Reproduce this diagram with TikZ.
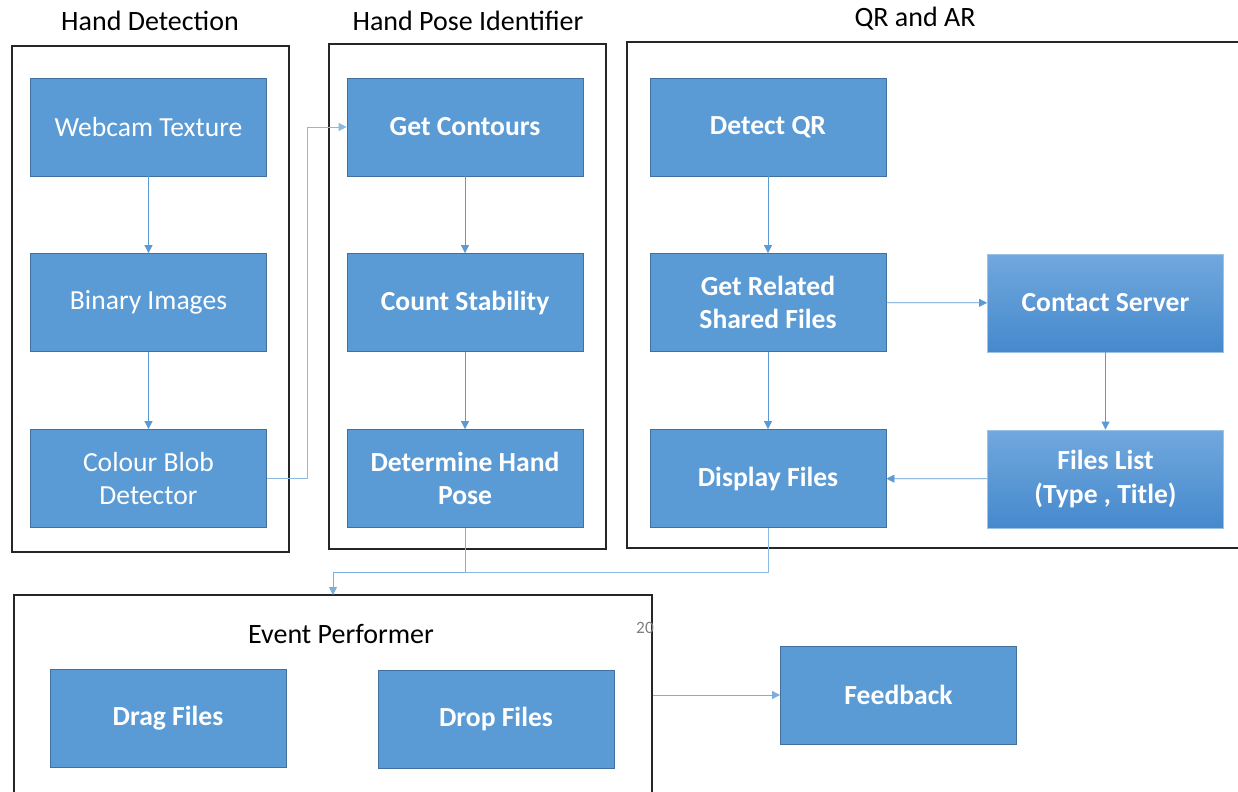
\documentclass[tikz,border=0pt]{standalone}
\usepackage{fontspec}
\setmainfont{Carlito}
\usepackage{xcolor}
\usetikzlibrary{arrows.meta,positioning,calc,fit}
\definecolor{boxblue}{HTML}{5B9BD5}
\definecolor{boxedge}{HTML}{41719C}
\definecolor{gradtop}{HTML}{71A8DD}
\definecolor{gradbot}{HTML}{4589CD}
\tikzset{
	blk/.style={draw=boxedge, line width=0.6pt, fill=boxblue, minimum width=177pt,
		minimum height=73.5pt, align=center, text=white, font=\fontsize{20.7}{24.8}\selectfont},
	bblk/.style={blk, font=\fontsize{20.7}{24.8}\selectfont\bfseries},
	grad/.style={bblk, draw=gradtop!70!white, top color=gradtop, bottom color=gradbot},
	frame/.style={draw=black!85, line width=1.1pt, inner sep=0pt},
	ttl/.style={font=\fontsize{21}{25}\selectfont, text=black},
	conn/.style={draw=boxblue, line width=0.6pt, -{Triangle[length=6pt,width=6pt]}},
	line/.style={draw=boxblue!70!white, line width=0.6pt},
}

\begin{document}
\begin{tikzpicture}[x=0.75pt, y=-0.75pt]
	\clip (0,0) rectangle (1238,792);
	\fill[white] (0,0) rectangle (1238,792);
	% group frames
	\node[frame, fit={(12,46) (289,552)}] (fhand) {};
	\node[frame, fit={(329,44) (606,549)}] (fpose) {};
	\node[frame, fit={(627,42) (1262,548)}] (fqr) {};
	\node[frame, fit={(14,595) (652,812)}] (event) {};
	\node[ttl] at (150,21) (thand) {Hand Detection};
	\node[ttl] at (468,21) (tpose) {Hand Pose Identifier};
	\node[ttl] at (915,19) (tqr) {QR and AR};
	\node[ttl] at (341,634) (tevent) {Event Performer};
	\node[font=\fontsize{13}{15}\selectfont, text=black!50] at (645,628) (pnum) {20};
	% hand detection
	\node[blk] at (148.5,127) (webcam) {Webcam Texture};
	\node[blk] at (148.5,302.5) (binary) {Binary Images};
	\node[blk] at (148.5,478.5) (blob) {Colour Blob\\Detector};
	% hand pose
	\node[bblk] at (465,127) (contours) {Get Contours};
	\node[bblk] at (465,302.5) (stab) {Count Stability};
	\node[bblk] at (465,478.5) (pose) {Determine Hand\\Pose};
	% qr and ar
	\node[bblk] at (768,127) (qr) {Detect QR};
	\node[bblk] at (768,302.5) (related) {Get Related\\Shared Files};
	\node[bblk] at (768,478.5) (display) {Display Files};
	\node[grad] at (1105.5,303) (server) {Contact Server};
	\node[grad] at (1105.5,479) (flist) {Files List\\(Type , Title)};
	% event performer
	\node[bblk] at (168,718) (drag) {Drag Files};
	\node[bblk] at (496,719) (drop) {Drop Files};
	\node[bblk] at (898.5,695) (feedback) {Feedback};
	% connectors
	\draw[conn] (webcam) -- (binary);
	\draw[conn] (binary) -- (blob);
	\draw[conn, draw=boxblue!70!white] (blob.east) -- ++(40,0) |- (contours.west);
	\draw[conn] (contours) -- (stab);
	\draw[conn] (stab) -- (pose);
	\draw[conn] (qr) -- (related);
	\draw[conn] (related) -- (display);
	\draw[conn] (related) -- (server);
	\draw[conn] (server) -- (flist);
	\draw[conn] (flist) -- (display);
	\coordinate (evin) at (333,595);
	\draw[conn, draw=boxblue!80!white] (pose.south) -- ++(0,44) coordinate (join) -| (evin);
	\draw[line] (display.south) |- (join);
	\draw[conn, draw=boxblue!80!white] (event.east |- feedback) -- (feedback);
\end{tikzpicture}
\end{document}
